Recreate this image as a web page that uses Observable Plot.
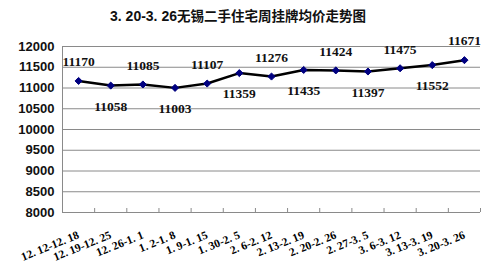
<!DOCTYPE html>
<html>
<head>
<meta charset="utf-8">
<script src="https://cdn.jsdelivr.net/npm/d3@7"></script>
<script src="https://cdn.jsdelivr.net/npm/@observablehq/plot@0.6"></script>
<style>
  body { margin: 0; background: #fff; }
  #chart { width: 500px; height: 270px; }
  .title {
    width: 476px; padding-right: 24px; padding-top: 5px; height: 27px;
    line-height: 32px; text-align: center;
    font: bold 13.5px "Noto Sans CJK SC", sans-serif; color: #111;
  }
  .title .num { font-family: "Liberation Sans Narrow", "Liberation Sans", sans-serif; font-size: 14px; }
</style>
</head>
<body>
<div id="chart">
  <div class="title"><span class="num">3. 20-3. 26</span>无锡二手住宅周挂牌均价走势图</div>
</div>
<script>
// Weekly periods (listing weeks) and average listing price, yuan per m²
const weeks = [
  "12. 12-12. 18", "12. 19-12. 25", "12. 26-1. 1", "1. 2-1. 8", "1. 9-1. 15",
  "1. 30-2. 5", "2. 6-2. 12", "2. 13-2. 19", "2. 20-2. 26", "2. 27-3. 5",
  "3. 6-3. 12", "3. 13-3. 19", "3. 20-3. 26"
];
const prices = [11170, 11058, 11085, 11003, 11107, 11359, 11276, 11435, 11424, 11397, 11475, 11552, 11671];
const yTicks = [8000, 8500, 9000, 9500, 10000, 10500, 11000, 11500, 12000];

const data = weeks.map((w, i) => ({i, week: w, price: prices[i]}));
const bounds = d3.range(weeks.length + 1).map(k => k - 0.5);

const gray = "#8a8a8a";
const labelFont = {fontFamily: "Liberation Serif, serif", fontWeight: "bold", fontSize: 13.5, fill: "#111"};

const chart = Plot.plot({
  width: 500,
  height: 238,
  marginTop: 14,
  marginBottom: 58,
  marginLeft: 62,
  marginRight: 20,
  x: {type: "linear", domain: [-0.5, weeks.length - 0.5]},
  y: {domain: [8000, 12000]},
  marks: [
    Plot.gridY(yTicks, {stroke: gray, strokeOpacity: 1}),
    Plot.ruleX([-0.5], {stroke: gray}),
    Plot.ruleY([8000], {stroke: gray}),
    Plot.axisY({
      ticks: yTicks, tickSize: 0, tickPadding: 8, tickFormat: d => String(d),
      fontFamily: "Liberation Sans, Arial, sans-serif", fontWeight: "bold", fontSize: 13, fill: "#111",
      label: null
    }),
    Plot.axisX({
      ticks: bounds, tickSize: -4, stroke: gray, tickFormat: () => "", label: null
    }),
    Plot.axisX({
      ticks: d3.range(weeks.length), tickSize: 0, tickPadding: 22, tickRotate: -22,
      tickFormat: i => weeks[i],
      fontFamily: "Liberation Serif, serif", fontWeight: "bold", fontSize: 11.5, fill: "#000",
      label: null
    }),
    Plot.line(data, {x: "i", y: "price", stroke: "#000", strokeWidth: 2.5}),
    Plot.dot(data, {x: "i", y: "price", symbol: "diamond2", r: 3.2, fill: "#000080", stroke: "#000080", strokeWidth: 1}),
    Plot.text(data.filter(d => d.i % 2 === 0), {x: "i", y: "price", text: d => String(d.price), dy: -19, ...labelFont}),
    Plot.text(data.filter(d => d.i % 2 === 1), {x: "i", y: "price", text: d => String(d.price), dy: 21, ...labelFont})
  ]
});

document.getElementById("chart").appendChild(chart);
</script>
</body>
</html>
